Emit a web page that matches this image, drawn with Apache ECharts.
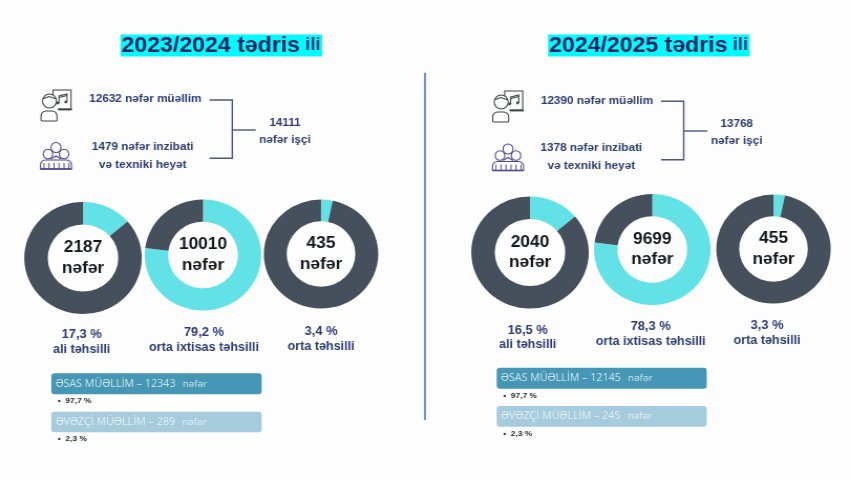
<!DOCTYPE html>
<html><head><meta charset="utf-8">
<style>html,body{margin:0;padding:0;background:#fdfdfd;overflow:hidden}
#c{width:810px;height:480px;transform-origin:0 0;transform:scale(1.0494,1);filter:blur(0.35px)}</style>
<script src="https://cdn.jsdelivr.net/npm/echarts@6/dist/echarts.min.js"></script>
</head><body><div id="c"></div>
<script>
// ---- data ----
const years = ['2023/2024', '2024/2025'];
const counts = [['2187','10010','435'], ['2040','9699','455']];
const percents = [['17,3 %','79,2 %','3,4 %'], ['16,5 %','78,3 %','3,3 %']];
const levels = ['ali təhsilli','orta ixtisas təhsilli','orta təhsilli'];
// share of the ring drawn in cyan, as measured on the rings
const cyanShares = [[13.7,77,3.3],[13.9,77,3.2]];
const teachers = ['12632','12390'];
const staff = ['1479','1378'];
const workers = ['14111','13768'];
const mainTeachers = ['12343','12145'];
const partTeachers = ['289','245'];
const mainPct = '97,7 %', partPct = '2,3 %';

// ---- layout ----
const S = 1.0494, X = x => x / S;
const CYAN='#62e2e6', DARK='#464f5c', NAVY='#2b3c74', HEAD='#12235f';
const FONT='"Liberation Sans",Arial,sans-serif';
const rings = [
 [[83,258,56],[203,255,55.5],[321,254,54.5]],
 [[530,252.5,56],[652.3,249.5,55.5],[773.5,249,54.5]]];
const captions = [
 [[81.7,335,350],[204,333,348],[321,332,346.5]],
 [[527.7,330.7,345],[650.7,327,342],[767,326,341]]];
const titleX=[120.5,548];
const blocks=[
 {t:[145.3,99.3],s:[142.7,146.7,164.7],w:[285,123,140],l:[209.5,232.3,255.7,100,130,158.3],i1:[40,90],i2:[40,142],
  bx:[51.3,261.7],b1:[373.3,394.3],b2:[411.7,432.3],p:[401,438.6]},
 {t:[597,101],s:[591.3,147.7,166],w:[736.7,124.3,141],l:[661,683.7,707.3,101.3,131,159.7],i1:[491.7,91],i2:[492,143.5],
  bx:[496.7,706.7],b1:[367.7,388.7],b2:[406,426.7],p:[395.7,433.7]}];

const series=[], graphic=[], title=[];
const txt=(x,y,text,size,fill,weight,family)=>({type:'text',silent:true,x:X(x),y,style:{text,x:0,y:0,align:'center',verticalAlign:'middle',font:`${weight||'bold'} ${size}px ${family||FONT}`,fill}});
years.forEach((yr,g)=>{
 title.push({text:`{a|${yr} tədris} {b|ili}`,left:X(titleX[g]),top:33,padding:[0,1.5,0,1],itemGap:0,backgroundColor:'#00fbff',
   textStyle:{rich:{a:{fontFamily:FONT,fontWeight:'bold',fontSize:22,color:HEAD,lineHeight:25},b:{fontFamily:FONT,fontWeight:'bold',fontSize:17.5,color:'#27397a',lineHeight:25}}}});
 rings[g].forEach((r,k)=>{
  series.push({type:'pie',silent:true,animation:false,center:[X(r[0]),r[1]],radius:[r[2]*0.6,r[2]],startAngle:90,clockwise:true,
   minAngle:0,avoidLabelOverlap:false,emphasis:{disabled:true},
   label:{show:true,position:'center',formatter:counts[g][k]+'\nnəfər',fontFamily:FONT,fontWeight:'bold',fontSize:16.5,lineHeight:20.5,color:'#15181c',padding:[2,0,0,0]},
   labelLine:{show:false},
   data:[{name:levels[k],value:cyanShares[g][k],itemStyle:{color:CYAN}},
         {name:'',value:100-cyanShares[g][k],itemStyle:{color:DARK},label:{show:false}}]});
  const c=captions[g][k];
  graphic.push(txt(c[0],c[1],percents[g][k],12.3,NAVY),txt(c[0],c[2],levels[k],12,NAVY));
 });
 const b=blocks[g], L=b.l;
 graphic.push(txt(b.t[0],b.t[1],teachers[g]+' nəfər müəllim',11.2,NAVY),
  txt(b.s[0],b.s[1],staff[g]+' nəfər inzibati',11.2,NAVY),
  txt(b.s[0],b.s[2],'və texniki heyət',11.2,NAVY),
  txt(b.w[0],b.w[1],workers[g],11.2,NAVY),txt(b.w[0],b.w[2],'nəfər işçi',11.2,NAVY));
 const ln={stroke:'#4a5782',lineWidth:1.4};
 graphic.push({type:'polyline',silent:true,shape:{points:[[X(L[0]),L[3]],[X(L[1]),L[3]],[X(L[1]),L[5]],[X(L[0]),L[5]]]},style:{...ln,fill:null}},
  {type:'line',silent:true,shape:{x1:X(L[1]),y1:L[4],x2:X(L[2]),y2:L[4]},style:ln});
 // bars
 [[b.b1,'#4597b5','ƏSAS MÜƏLLİM – '+mainTeachers[g],'#cfe6ee',b.p[0],mainPct],[b.b2,'#a5cbdc','ƏVƏZÇİ MÜƏLLİM – '+partTeachers[g],'#e3f0f5',b.p[1],partPct]].forEach(d=>{
  graphic.push({type:'rect',silent:true,shape:{x:X(b.bx[0]),y:d[0][0],width:X(b.bx[1]-b.bx[0]),height:d[0][1]-d[0][0],r:3},style:{fill:d[1]}});
  graphic.push({type:'text',silent:true,x:X(b.bx[0]+4.2),y:(d[0][0]+d[0][1])/2,style:{text:`{a|${d[2]}}  {b|nəfər}`,x:0,y:0,align:'left',verticalAlign:'middle',
    rich:{a:{font:'10.2px "Open Sans",sans-serif',fill:d[3]},b:{font:'9.5px "Open Sans",sans-serif',fill:d[3]}}}});
  graphic.push({type:'text',silent:true,x:X(b.bx[0]+6.5),y:d[4],style:{text:'•  '+d[5],x:0,y:0,align:'left',verticalAlign:'middle',font:'bold 8px '+FONT,fill:'#24292f'}});
 });
 // teacher icon
 const ic='#3f4145';
 const s1={stroke:ic,lineWidth:1.1,fill:null};
 graphic.push({type:'group',silent:true,x:X(b.i1[0]),y:b.i1[1],scaleX:1/S,children:[
  {type:'polyline',shape:{points:[[13,5],[13,0],[31,0],[31,19],[18,19]]},style:s1},
  {type:'line',shape:{x1:18,y1:19.5,x2:32,y2:19.5},style:{stroke:ic,lineWidth:1.8}},
  {type:'circle',shape:{cx:9.5,cy:11,r:7},style:s1},
  {type:'polyline',shape:{points:[[2.5,9],[9,6.5],[16.5,9]]},style:s1},
  {type:'rect',shape:{x:1,y:21,width:16,height:10,r:[5,5,1,1]},style:s1},
  {type:'polyline',shape:{points:[[19,13],[19,6],[27,4],[27,12]]},style:s1},
  {type:'line',shape:{x1:19,y1:7.5,x2:27,y2:5.5},style:s1},
  {type:'circle',shape:{cx:17.8,cy:13,r:1.4},style:{fill:ic}},
  {type:'circle',shape:{cx:25.8,cy:12,r:1.4},style:{fill:ic}}]});
 // group icon
 const gc='#51468f', s2={stroke:gc,lineWidth:1.1,fill:'#fdfdfd'};
 const bars=[];
 [4,9,14,19,24,29].forEach(v=>bars.push({type:'line',shape:{x1:v,y1:21,x2:v,y2:27},style:{stroke:gc,lineWidth:1}}));
 graphic.push({type:'group',silent:true,x:X(b.i2[0]),y:b.i2[1],scaleX:1/S,children:[
  {type:'rect',shape:{x:0.5,y:18,width:31,height:9,r:[5,5,0,0]},style:s2},
  ...bars,
  {type:'line',shape:{x1:0.5,y1:27,x2:31.5,y2:27},style:{stroke:gc,lineWidth:1.6}},
  {type:'circle',shape:{cx:16,cy:5.5,r:5},style:s2},
  {type:'polyline',shape:{points:[[11,17],[16,14],[21,17]]},style:{stroke:gc,lineWidth:1.1,fill:null}},
  {type:'circle',shape:{cx:8,cy:12,r:4.8},style:s2},
  {type:'circle',shape:{cx:24,cy:12,r:4.8},style:s2}]});
});
// divider
graphic.push({type:'line',silent:true,shape:{x1:X(425),y1:72.7,x2:X(425),y2:420},style:{stroke:'#6f94cf',lineWidth:2}});

const chart=echarts.init(document.getElementById('c'),null,{width:810,height:480});
chart.setOption({animation:false,backgroundColor:'#fdfdfd',title,tooltip:{show:false},legend:{show:false},series,graphic:{elements:graphic}});
</script></body></html>
